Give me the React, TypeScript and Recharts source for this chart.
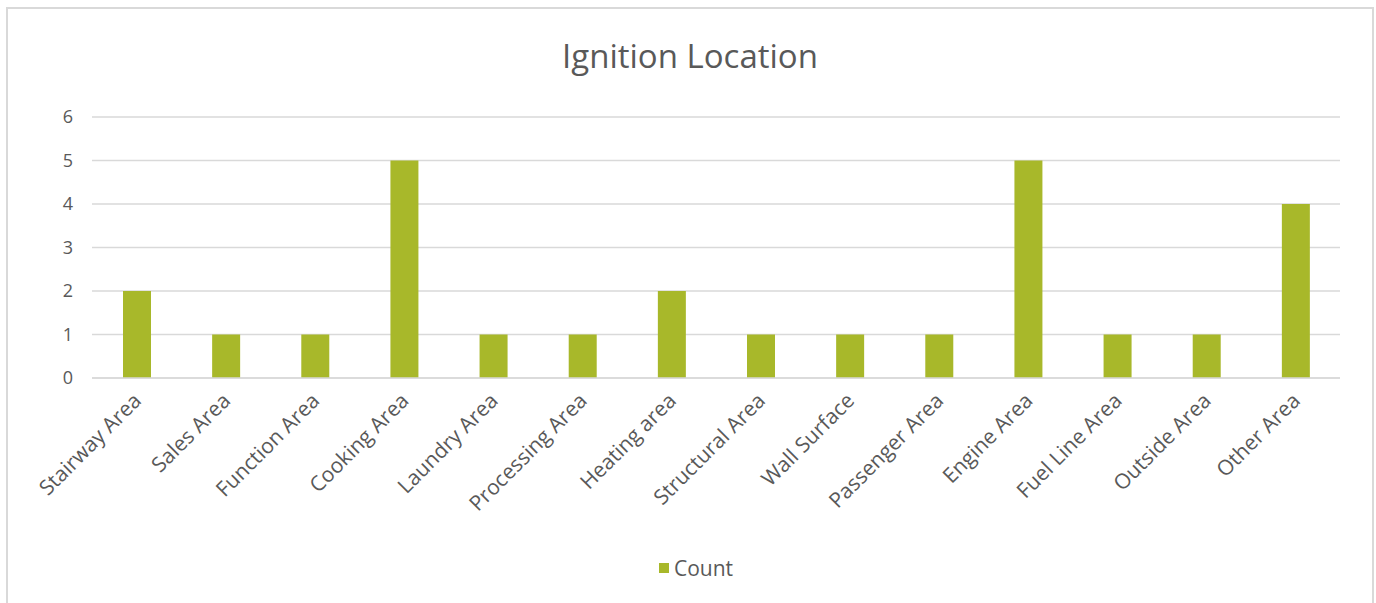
import { BarChart, Bar, XAxis, YAxis, CartesianGrid, Legend } from 'recharts'

const categories = [
  'Stairway Area',
  'Sales Area',
  'Function Area',
  'Cooking Area',
  'Laundry Area',
  'Processing Area',
  'Heating area',
  'Structural Area',
  'Wall Surface',
  'Passenger Area',
  'Engine Area',
  'Fuel Line Area',
  'Outside Area',
  'Other Area',
]
const counts = [2, 1, 1, 5, 1, 1, 2, 1, 1, 1, 5, 1, 1, 4]
const yTicks = [0, 1, 2, 3, 4, 5, 6]

const data = categories.map((name, i) => ({ name, Count: counts[i] }))

const BAR_COLOR = '#a8b82a'
const TEXT_COLOR = '#595959'
const GRID_COLOR = '#d9d9d9'
const FONT = '"Open Sans", sans-serif'

// rotated category labels, anchored at their end just under the bar
const CategoryTick = ({ x, y, payload }: any) => (
  <text
    x={x + 6}
    y={y + 22}
    transform={`rotate(-45, ${x + 6}, ${y + 22})`}
    textAnchor="end"
    fontSize={21}
    fontFamily={FONT}
    fill={TEXT_COLOR}
  >
    {payload.value}
  </text>
)

const LegendContent = () => (
  <div
    style={{
      height: 30,
      display: 'flex',
      alignItems: 'center',
      justifyContent: 'center',
      fontFamily: FONT,
      fontSize: 21,
      color: TEXT_COLOR,
    }}
  >
    <span style={{ width: 10, height: 10, background: BAR_COLOR, marginRight: 5, marginLeft: 44 }} />
    <span>Count</span>
  </div>
)

export default function App() {
  return (
    <div
      style={{
        position: 'absolute',
        left: 6,
        top: 7,
        width: 1364,
        height: 594,
        border: `2px solid ${GRID_COLOR}`,
        borderBottom: 'none',
        background: '#fff',
      }}
    >
      <div
        style={{
          position: 'absolute',
          top: 28,
          left: 0,
          width: '100%',
          textAlign: 'center',
          fontFamily: FONT,
          fontSize: 33,
          lineHeight: '38px',
          color: TEXT_COLOR,
        }}
      >
        Ignition Location
      </div>
      <BarChart
        width={1364}
        height={594}
        data={data}
        margin={{ top: 108, right: 32, left: 0, bottom: 20 }}
        barCategoryGap={0}
      >
        <CartesianGrid vertical={false} stroke={GRID_COLOR} strokeWidth={1.5} />
        <XAxis
          dataKey="name"
          interval={0}
          height={175}
          tick={<CategoryTick />}
          tickLine={false}
          tickSize={0}
          axisLine={{ stroke: GRID_COLOR, strokeWidth: 1.5 }}
        />
        <YAxis
          width={84}
          domain={[0, 6]}
          ticks={yTicks}
          axisLine={false}
          tickLine={false}
          tickSize={0}
          tickMargin={19}
          tick={{ fontSize: 18, fontFamily: FONT, fill: TEXT_COLOR }}
        />
        <Legend verticalAlign="bottom" content={<LegendContent />} />
        <Bar dataKey="Count" fill={BAR_COLOR} barSize={28} isAnimationActive={false} />
      </BarChart>
    </div>
  )
}
